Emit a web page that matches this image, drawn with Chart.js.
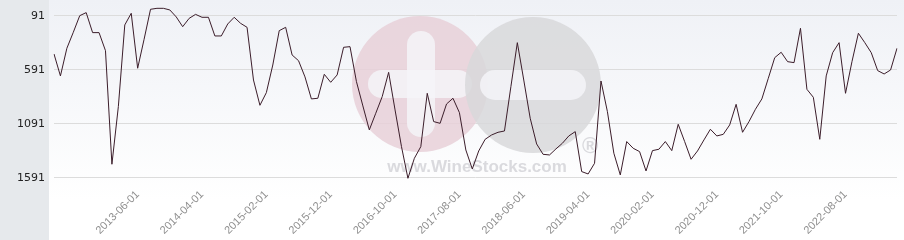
<!DOCTYPE html>
<html>
<head>
<meta charset="utf-8">
<script src="https://cdn.jsdelivr.net/npm/chart.js@4.4.0/dist/chart.umd.min.js"></script>
<style>
  html, body { margin: 0; padding: 0; background: #fff; }
  #wrap { width: 904px; height: 240px; position: relative; }
</style>
</head>
<body>
<div id="wrap"><canvas id="grafica"></canvas></div>
<script>
// first month of the series and how many months
const startYear = 2012;
const startMonth = 5;
const monthCount = 132;

// ranking values, month by month (lower is better)
const ranks = [
  443, 646, 390, 242, 88, 60, 245, 245, 412, 1464,
  930, 174, 66, 575, 307, 29, 20, 20, 35, 100,
  190, 113, 76, 103, 103, 276, 276, 165, 103, 159,
  196, 684, 918, 801, 545, 227, 196, 452, 505, 655,
  859, 853, 631, 705, 637, 381, 375, 699, 924, 1146,
  992, 838, 613, 961, 1301, 1594, 1409, 1301, 807, 1069,
  1085, 906, 853, 986, 1332, 1508, 1341, 1233, 1193, 1168,
  1156, 745, 338, 684, 1038, 1276, 1372, 1378, 1322, 1270,
  1202, 1162, 1532, 1554, 1455, 693, 977, 1362, 1563, 1254,
  1316, 1347, 1526, 1338, 1325, 1254, 1338, 1094, 1254, 1418,
  1341, 1239, 1140, 1202, 1187, 1100, 909, 1168, 1069, 955,
  859, 668, 477, 427, 514, 523, 205, 770, 844, 1233,
  646, 431, 338, 807, 514, 251, 338, 431, 597, 628,
  591, 390
];

// tick labels that are shown on the axes
const shownDates = [
  "2013-06-01", "2014-04-01", "2015-02-01", "2015-12-01", "2016-10-01", "2017-08-01",
  "2018-06-01", "2019-04-01", "2020-02-01", "2020-12-01", "2021-10-01", "2022-08-01"
];
const yTicks = [91, 591, 1091, 1591];

const fechas = [];
for (let i = 0; i < monthCount; i++) {
  const m = startMonth - 1 + i;
  const y = startYear + Math.floor(m / 12);
  const mm = (m % 12) + 1;
  fechas.push(y + "-" + String(mm).padStart(2, "0") + "-01");
}

// fondo: panel gris a la izquierda y degradado en el área
const fondo = {
  id: "fondo",
  beforeDraw(chart) {
    const c = chart.ctx;
    c.save();
    c.fillStyle = "#ffffff";
    c.fillRect(0, 0, chart.width, chart.height);
    const g = c.createLinearGradient(0, 0, 0, 200);
    g.addColorStop(0, "#eff1f6");
    g.addColorStop(1, "#ffffff");
    c.fillStyle = g;
    c.fillRect(49, 0, chart.width - 49, chart.height);
    c.fillStyle = "#e6e9ec";
    c.fillRect(0, 0, 49, chart.height);
    c.restore();
  }
};

// marca de agua
const marca = {
  id: "marca",
  beforeDatasetsDraw(chart) {
    const c = chart.ctx;
    c.save();
    c.globalAlpha = 0.85;
    c.fillStyle = "#e8d0d8";
    c.beginPath();
    c.arc(420, 84, 68, 0, Math.PI * 2);
    c.fill();
    c.fillStyle = "#f4f5f8";
    c.beginPath();
    c.roundRect(407, 31, 28, 106, 14);
    c.fill();
    c.beginPath();
    c.roundRect(368, 70, 104, 28, 14);
    c.fill();
    c.fillStyle = "#d8d8db";
    c.beginPath();
    c.arc(533, 85, 68, 0, Math.PI * 2);
    c.fill();
    c.fillStyle = "#f4f5f8";
    c.beginPath();
    c.roundRect(480, 70, 106, 30, 15);
    c.fill();
    c.fillStyle = "#d4d4d8";
    c.font = "bold 17px 'Liberation Sans'";
    c.textAlign = "center";
    c.textBaseline = "alphabetic";
    c.fillText("www.WineStocks.com", 477, 172);
    c.font = "bold 22px 'Liberation Sans'";
    c.fillText("®", 590, 153);
    c.restore();
  }
};

const ctx = document.getElementById("grafica");

new Chart(ctx, {
  type: "line",
  data: {
    labels: fechas,
    datasets: [
      {
        data: ranks,
        borderColor: "#3b1d2a",
        borderWidth: 1,
        pointRadius: 0,
        tension: 0,
        fill: false
      }
    ]
  },
  options: {
    responsive: true,
    maintainAspectRatio: false,
    animation: false,
    layout: { padding: { top: 4, right: 7, left: 0, bottom: 0 } },
    plugins: {
      legend: { display: false },
      tooltip: { enabled: false }
    },
    scales: {
      x: {
        grid: { display: false },
        border: { display: false },
        afterFit(scale) {
          scale.height = 52;
          scale.paddingLeft = 0;
          scale.paddingRight = 0;
        },
        ticks: {
          autoSkip: false,
          maxRotation: 45,
          minRotation: 45,
          padding: -8,
          color: "#8f8f8f",
          font: { family: "'Liberation Sans'", size: 11 },
          callback(value, index) {
            const lab = fechas[index];
            return shownDates.includes(lab) ? lab : "";
          }
        }
      },
      y: {
        reverse: true,
        min: -20,
        max: 1684,
        afterFit(scale) {
          scale.width = 54;
          scale.paddingTop = 0;
          scale.paddingBottom = 0;
        },
        afterBuildTicks(scale) {
          scale.ticks = yTicks.map((v) => ({ value: v }));
        },
        grid: { color: "#dcdcdc", lineWidth: 1, drawTicks: false },
        border: { display: false },
        ticks: {
          padding: 9,
          color: "#222222",
          font: { family: "'DejaVu Sans'", size: 11 },
          callback(value) {
            return String(value);
          }
        }
      }
    }
  },
  plugins: [fondo, marca]
});
</script>
</body>
</html>
